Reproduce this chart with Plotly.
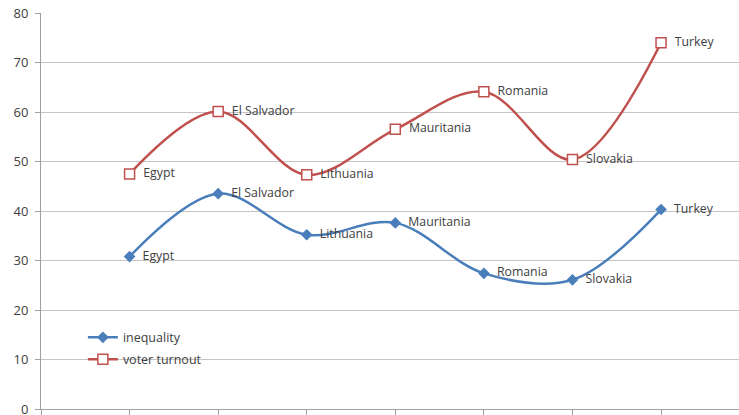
import plotly.graph_objects as go

countries = ["Egypt", "El Salvador", "Lithuania", "Mauritania", "Romania", "Slovakia", "Turkey"]
positions = [1, 2, 3, 4, 5, 6, 7]
inequality = [30.8, 43.5, 35.2, 37.6, 27.4, 26.1, 40.3]
voter_turnout = [47.5, 60.1, 47.3, 56.5, 64.1, 50.4, 74.0]
y_ticks = [0, 10, 20, 30, 40, 50, 60, 70, 80]

BLUE = "#4a7ebb"
RED = "#c0504d"
FAMILY = "Open Sans, Liberation Sans, sans-serif"
LABEL_FONT = dict(family=FAMILY, size=12.3, color="#404040")

# point labels sit a little to the right of each marker
labels = ["  " + c for c in countries]

fig = go.Figure()

fig.add_trace(go.Scatter(
    x=positions, y=inequality, name="inequality", legend="legend",
    mode="lines+markers+text", text=labels, textposition="middle right",
    textfont=LABEL_FONT,
    line=dict(color=BLUE, width=2.5, shape="spline", smoothing=1.0),
    marker=dict(symbol="diamond", size=9, color=BLUE),
))

fig.add_trace(go.Scatter(
    x=positions, y=voter_turnout, name="voter turnout", legend="legend2",
    mode="lines+markers+text", text=labels, textposition="middle right",
    textfont=LABEL_FONT,
    line=dict(color=RED, width=2.5, shape="spline", smoothing=1.0),
    marker=dict(symbol="square", size=10, color="white",
                line=dict(color=RED, width=1.5)),
))

legend_style = dict(xanchor="left", yanchor="middle", bgcolor="rgba(0,0,0,0)",
                    font=dict(size=12.5, color="#404040"), itemwidth=30)

fig.update_layout(
    width=739, height=415,
    margin=dict(l=41, r=0, t=13, b=6, autoexpand=False),
    paper_bgcolor="white", plot_bgcolor="white",
    font=dict(family=FAMILY, size=12, color="#404040"),
    showlegend=True,
    legend=dict(x=0.06, y=0.18, **legend_style),
    legend2=dict(x=0.06, y=0.125, **legend_style),
)

fig.update_xaxes(
    range=[0, 7.88], tickvals=list(range(0, 8)), showticklabels=False,
    showgrid=False, zeroline=False, automargin=False,
    showline=True, linecolor="#a0a0a0", linewidth=1,
    ticks="outside", ticklen=5, tickcolor="#a0a0a0",
)
fig.update_yaxes(
    range=[0, 80], tickvals=y_ticks, showgrid=True, gridcolor="#c4c4c4",
    gridwidth=1, zeroline=False, showline=True, linecolor="#a0a0a0",
    ticks="outside", ticklen=5, tickcolor="#a0a0a0", automargin=False,
    tickfont=dict(size=13, color="#404040"),
    ticklabelstandoff=4, ticklabeloverflow="allow",
)

fig.write_html("out.html")
